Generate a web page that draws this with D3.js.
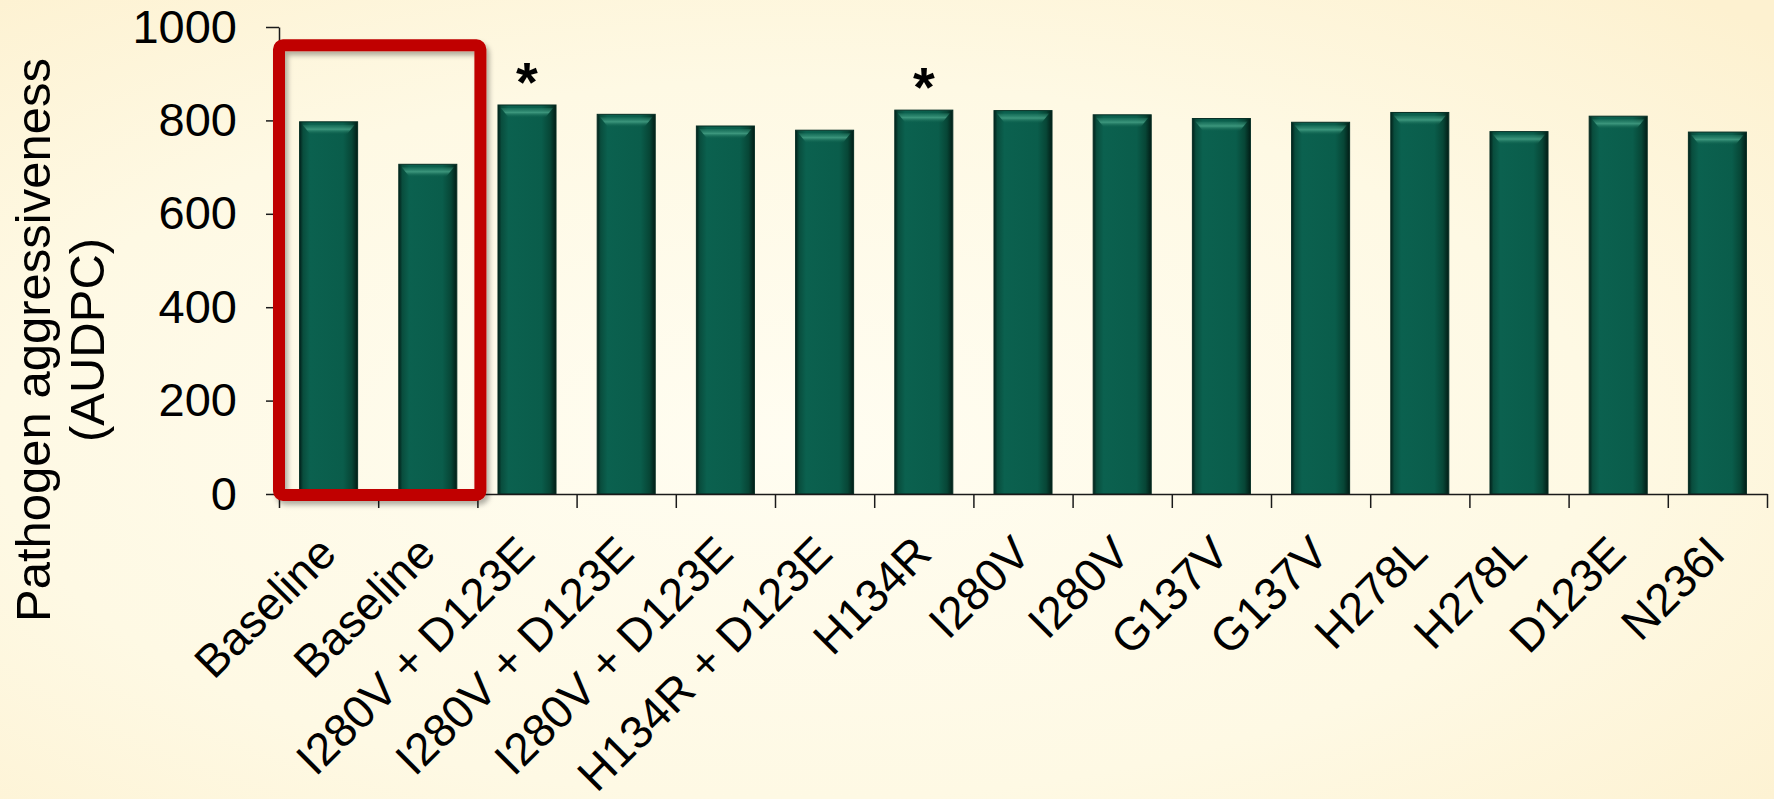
<!DOCTYPE html>
<html>
<head>
<meta charset="utf-8">
<script src="https://cdn.jsdelivr.net/npm/d3@7/dist/d3.min.js"></script>
<style>
  html, body { margin: 0; padding: 0; overflow: hidden; }
  svg { display: block; font-family: "Liberation Sans", Arial, sans-serif; }
</style>
</head>
<body>
<svg id="chart" width="1774" height="799"></svg>
<script>
// Isolate labels and AUDPC values
const categories = [
  "Baseline", "Baseline", "I280V + D123E", "I280V + D123E", "I280V + D123E",
  "H134R + D123E", "H134R", "I280V", "I280V", "G137V", "G137V",
  "H278L", "H278L", "D123E", "N236I"
];
const values = [797, 706, 833, 813, 788, 779, 822, 821, 812, 804, 796, 817, 776, 809, 775];
const significant = [false, false, true, false, false, false, true, false, false, false, false, false, false, false, false];
const yTicks = [0, 200, 400, 600, 800, 1000];
const yTitle = ["Pathogen aggressiveness", "(AUDPC)"];
const highlightGroup = [0, 1];      // baseline isolates framed in red
const highlightTop = 961;           // top of the frame, in AUDPC units

const W = 1774, H = 799;
const svg = d3.select("#chart");
const defs = svg.append("defs");

// Background
const bg = defs.append("radialGradient").attr("id", "bg")
  .attr("cx", "45%").attr("cy", "55%").attr("r", "75%");
bg.append("stop").attr("offset", "0%").attr("stop-color", "#fffdf1");
bg.append("stop").attr("offset", "60%").attr("stop-color", "#fef9e4");
bg.append("stop").attr("offset", "100%").attr("stop-color", "#fdf1d0");
svg.append("rect").attr("width", W).attr("height", H).attr("fill", "url(#bg)");

// Bar shading
const barGrad = defs.append("linearGradient").attr("id", "barGrad")
  .attr("x1", "0").attr("x2", "1").attr("y1", "0").attr("y2", "0");
[["0%", "#02201a"], ["6%", "#094d3d"], ["18%", "#0b614f"], ["75%", "#0a5d4b"],
 ["90%", "#074636"], ["100%", "#021d16"]].forEach(([o, c]) =>
  barGrad.append("stop").attr("offset", o).attr("stop-color", c));
const hiGrad = defs.append("linearGradient").attr("id", "hiGrad")
  .attr("x1", "0").attr("x2", "0").attr("y1", "0").attr("y2", "1");
hiGrad.append("stop").attr("offset", "0%").attr("stop-color", "#2f8a70").attr("stop-opacity", 0.3);
hiGrad.append("stop").attr("offset", "45%").attr("stop-color", "#45a085").attr("stop-opacity", 0.85);
hiGrad.append("stop").attr("offset", "100%").attr("stop-color", "#0b5e4a").attr("stop-opacity", 0);

const shadow = defs.append("filter").attr("id", "shadow")
  .attr("x", "-10%").attr("y", "-10%").attr("width", "130%").attr("height", "130%");
shadow.append("feDropShadow").attr("dx", 3).attr("dy", 4).attr("stdDeviation", 2.5)
  .attr("flood-color", "#000").attr("flood-opacity", 0.3);

// Scales
const x0 = 279, x1 = 1767, yTop = 27, yBase = 494;
const x = d3.scaleBand().domain(d3.range(categories.length)).range([x0, x1])
  .paddingInner(0.415).paddingOuter(0.2075);
const xEdge = d3.scaleLinear().domain([0, categories.length]).range([x0, x1]);
const y = d3.scaleLinear().domain([0, 1000]).range([yBase, yTop]);

// Bars
const bars = svg.append("g").selectAll("g").data(values).join("g");
bars.append("rect")
  .attr("x", (d, i) => x(i))
  .attr("y", d => y(d))
  .attr("width", x.bandwidth())
  .attr("height", d => y(0) - y(d))
  .attr("fill", "url(#barGrad)")
  .attr("stroke", "#062e24").attr("stroke-width", 1);
bars.append("path")
  .attr("d", (d, i) => {
    const bx = x(i), bw = x.bandwidth(), t = y(d);
    return `M${bx + 3},${t + 3}L${bx + bw - 3},${t + 3}L${bx + bw - 11},${t + 13}L${bx + 11},${t + 13}Z`;
  })
  .attr("fill", "url(#hiGrad)");

// Axes
const axisColor = "#1a1a1a";
const yAxis = svg.append("g").attr("transform", `translate(${x0},0)`)
  .call(d3.axisLeft(y).tickValues(yTicks).tickFormat(d3.format("d"))
    .tickSize(13).tickPadding(29).tickSizeOuter(0));
yAxis.select(".domain").attr("stroke", axisColor).attr("stroke-width", 1.5);
yAxis.selectAll(".tick line").attr("stroke", axisColor).attr("stroke-width", 1.5);
yAxis.selectAll(".tick text").attr("font-size", 47).attr("fill", "#000")
  .attr("font-family", "'Liberation Sans', Arial, sans-serif");

const xAxis = svg.append("g").attr("transform", `translate(0,${yBase})`)
  .call(d3.axisBottom(xEdge).tickValues(d3.range(categories.length + 1))
    .tickSize(14).tickSizeOuter(0).tickFormat(""));
xAxis.select(".domain").attr("stroke", axisColor).attr("stroke-width", 1.5);
xAxis.selectAll(".tick line").attr("stroke", axisColor).attr("stroke-width", 1.5);

// Category labels
svg.append("g").selectAll("text").data(categories).join("text")
  .attr("transform", (d, i) => `translate(${x(i) + x.bandwidth() / 2 + 10},${yBase + 62}) rotate(-45)`)
  .attr("text-anchor", "end")
  .attr("font-size", 46)
  .attr("fill", "#000")
  .text(d => d);

// Significance marks
svg.append("g").selectAll("text")
  .data(values.map((v, i) => ({ v, i })).filter(d => significant[d.i]))
  .join("text")
  .attr("x", d => x(d.i) + x.bandwidth() / 2)
  .attr("y", d => y(d.v) - 4)
  .attr("text-anchor", "middle")
  .attr("font-size", 56).attr("font-weight", "bold")
  .text("*");

// Y title
const yt = svg.append("text")
  .attr("transform", `translate(0,340) rotate(-90)`)
  .attr("text-anchor", "middle")
  .attr("font-size", 49).attr("fill", "#000");
yt.append("tspan").attr("x", 0).attr("y", 50).text(yTitle[0]);
yt.append("tspan").attr("x", 0).attr("y", 104).text(yTitle[1]);

// Frame around the baseline isolates
const fx0 = xEdge(highlightGroup[0]);
const fx1 = xEdge(highlightGroup[highlightGroup.length - 1] + 1) + 3;
svg.append("rect")
  .attr("x", fx0).attr("y", y(highlightTop))
  .attr("width", fx1 - fx0).attr("height", y(0) - y(highlightTop) + 1)
  .attr("rx", 4)
  .attr("fill", "none")
  .attr("stroke", "#c00000").attr("stroke-width", 12)
  .attr("stroke-linejoin", "round")
  .attr("filter", "url(#shadow)");
</script>
</body>
</html>
